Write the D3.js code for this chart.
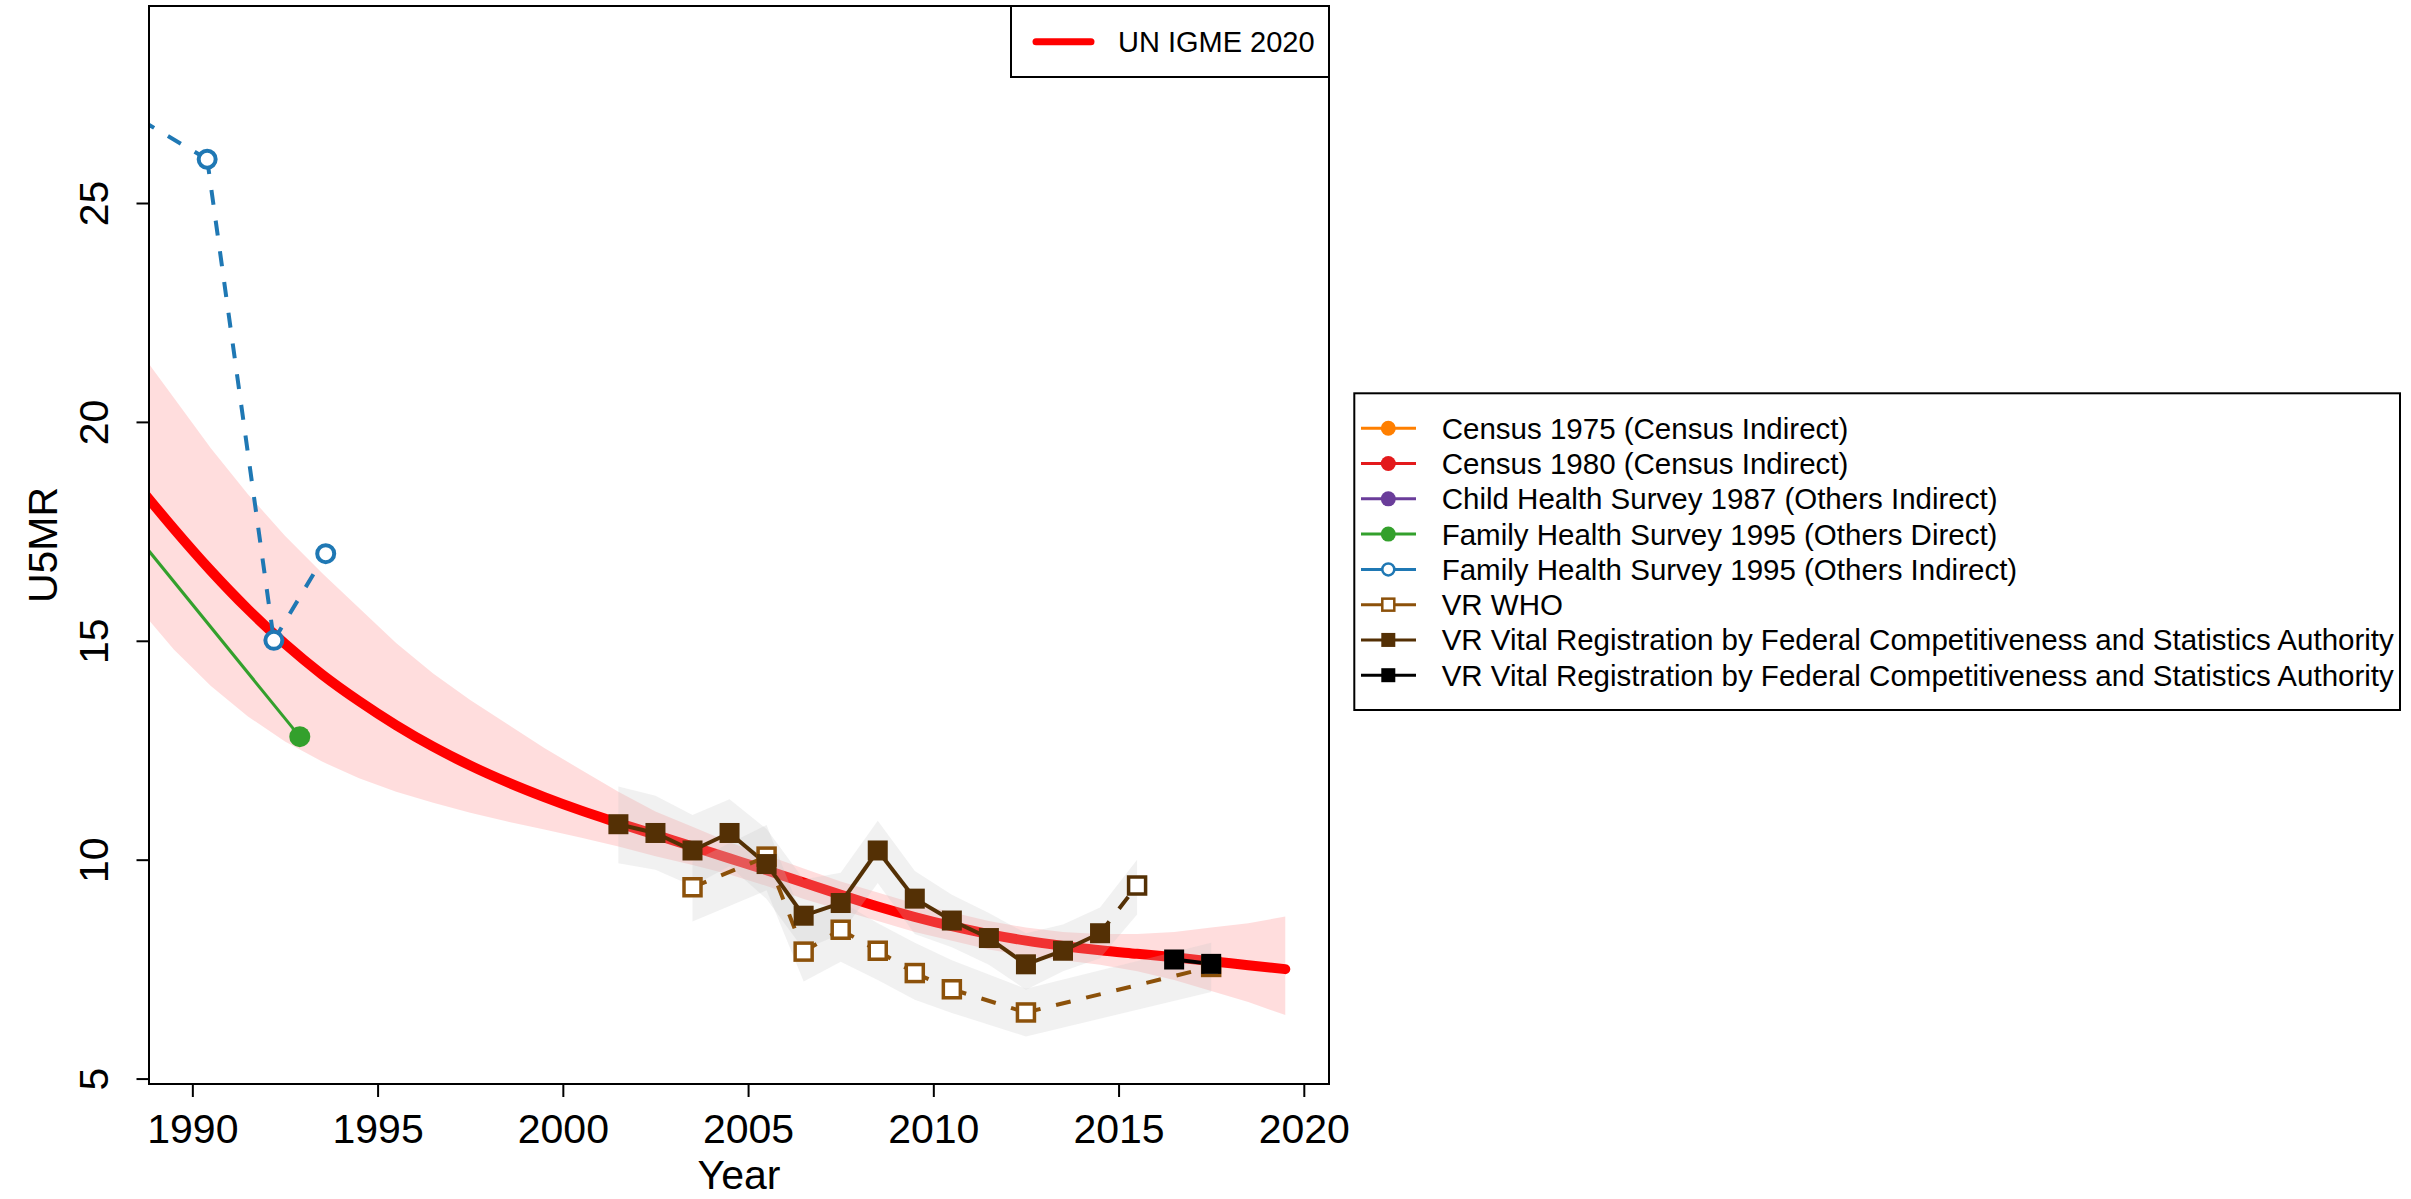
<!DOCTYPE html>
<html lang="en">
<head>
<meta charset="utf-8">
<title>U5MR</title>
<script src="https://cdn.jsdelivr.net/npm/d3@7"></script>
<style>
  body { margin: 0; background: #fff; }
  text { font-family: "Liberation Sans", Arial, Helvetica, sans-serif; fill: #000; }
</style>
</head>
<body>
<svg width="2411" height="1199"></svg>
<script>
// UN IGME 2020 estimate and its uncertainty band
var igmeYears = [1987.5, 1988.5, 1989.5, 1990.5, 1991.5, 1992.5, 1993.5, 1994.5, 1995.5, 1996.5, 1997.5,
                 1998.5, 1999.5, 2000.5, 2001.5, 2002.5, 2003.5, 2004.5, 2005.5, 2006.5, 2007.5,
                 2008.5, 2009.5, 2010.5, 2011.5, 2012.5, 2013.5, 2014.5, 2015.5, 2016.5, 2017.5,
                 2018.5, 2019.5];
var igmeValues = [19.65, 18.58, 17.56, 16.6, 15.72, 14.93, 14.23, 13.62, 13.07, 12.58, 12.15,
                  11.77, 11.43, 11.12, 10.84, 10.57, 10.3, 10.03, 9.76, 9.48, 9.2,
                  8.93, 8.69, 8.48, 8.3, 8.15, 8.03, 7.93, 7.85, 7.77, 7.68,
                  7.59, 7.5];
var igmeLower = [16.9, 15.8, 14.8, 13.97, 13.27, 12.7, 12.24, 11.86, 11.55, 11.3, 11.07,
                 10.87, 10.69, 10.5, 10.3, 10.08, 9.88, 9.66, 9.4, 9.1, 8.85,
                 8.6, 8.35, 8.15, 7.95, 7.8, 7.7, 7.6, 7.45, 7.25, 7.0,
                 6.75, 6.45];
var igmeUpper = [22.9, 21.7, 20.55, 19.4, 18.35, 17.4, 16.55, 15.75, 14.95, 14.25, 13.65,
                 13.1, 12.55, 12.05, 11.55, 11.1, 10.75, 10.4, 10.1, 9.8, 9.5,
                 9.25, 9.0, 8.8, 8.6, 8.45, 8.35, 8.3, 8.3, 8.35, 8.45,
                 8.55, 8.7];

// Family Health Survey 1995 (Others Direct)
var fhsDirectYears = [1987.9, 1992.9];
var fhsDirectValues = [18.02, 12.81];

// Family Health Survey 1995 (Others Indirect)
var fhsIndirectYears = [1987.9, 1990.4, 1992.2, 1993.6];
var fhsIndirectValues = [27.25, 26.0, 15.01, 16.99];

// VR WHO
var whoYears = [2003.5, 2005.5, 2006.5, 2007.5, 2008.5, 2009.5, 2010.5, 2012.5, 2017.5];
var whoValues = [9.37, 10.07, 7.9, 8.4, 7.92, 7.41, 7.04, 6.51, 7.55];
var whoLower = [8.59, 9.3, 7.22, 7.67, 7.25, 6.8, 6.5, 5.96, 6.98];
var whoUpper = [9.96, 10.79, 8.6, 9.05, 8.55, 8.1, 7.7, 7.05, 8.1];

// VR Vital Registration by Federal Competitiveness and Statistics Authority (brown)
var fcsaYears = [2001.5, 2002.5, 2003.5, 2004.5, 2005.5, 2006.5, 2007.5, 2008.5, 2009.5,
                 2010.5, 2011.5, 2012.5, 2013.5, 2014.5, 2015.5];
var fcsaValues = [10.81, 10.61, 10.21, 10.61, 9.9, 8.72, 9.01, 10.21, 9.11,
                  8.61, 8.21, 7.61, 7.92, 8.32, 9.41];
var fcsaExcluded = [false, false, false, false, false, false, false, false, false,
                    false, false, false, false, false, true];
var fcsaLower = [9.92, 9.77, 9.4, 9.85, 9.1, 7.95, 8.3, 9.47, 8.3,
                 8.0, 7.6, 7.03, 7.45, 7.75, 8.75];
var fcsaUpper = [11.67, 11.46, 11.02, 11.38, 10.7, 9.55, 9.7, 10.89, 9.74,
                 9.2, 8.78, 8.32, 8.52, 8.91, 10.0];

// VR Vital Registration by Federal Competitiveness and Statistics Authority (black)
var fcsa2Years = [2016.5, 2017.5];
var fcsa2Values = [7.72, 7.62];

// axes
var xTicks = [1990, 1995, 2000, 2005, 2010, 2015, 2020];
var yTicks = [5, 10, 15, 20, 25];

// legend
var legendLabels = ["Census 1975 (Census Indirect)",
                    "Census 1980 (Census Indirect)",
                    "Child Health Survey 1987 (Others Indirect)",
                    "Family Health Survey 1995 (Others Direct)",
                    "Family Health Survey 1995 (Others Indirect)",
                    "VR WHO",
                    "VR Vital Registration by Federal Competitiveness and Statistics Authority",
                    "VR Vital Registration by Federal Competitiveness and Statistics Authority"];
var legendColors = ["#FF7F00", "#E31A1C", "#6A3D9A", "#33A02C", "#1F78B4", "#8C510A", "#543005", "#000000"];
var legendShapes = ["dot", "dot", "dot", "dot", "ring", "box", "square", "square"];

var svg = d3.select("svg");
var plot = {left: 149, right: 1329, top: 6, bottom: 1084};

var x = d3.scaleLinear().domain([1988.83, 2020.68]).range([plot.left, plot.right]);
var y = d3.scaleLinear().domain([4.876, 29.5]).range([plot.bottom, plot.top]);

svg.append("defs").append("clipPath").attr("id", "clip")
  .append("rect")
    .attr("x", plot.left).attr("y", plot.top)
    .attr("width", plot.right - plot.left).attr("height", plot.bottom - plot.top);

var g = svg.append("g").attr("clip-path", "url(#clip)");

// band helper
function band(years, lo, hi) {
  return d3.area()
    .x(function(d) { return x(years[d]); })
    .y0(function(d) { return y(lo[d]); })
    .y1(function(d) { return y(hi[d]); })(d3.range(years.length));
}

// pink IGME band
g.append("path")
  .attr("d", band(igmeYears, igmeLower, igmeUpper))
  .attr("fill", "#ff0000")
  .attr("fill-opacity", 0.135);

// IGME line
var line = d3.line().x(function(d) { return x(d[0]); }).y(function(d) { return y(d[1]); });
g.append("path")
  .attr("d", line.curve(d3.curveMonotoneX)(d3.zip(igmeYears, igmeValues)))
  .attr("fill", "none")
  .attr("stroke", "#ff0000")
  .attr("stroke-width", 10)
  .attr("stroke-linecap", "round")
  .attr("stroke-linejoin", "round");
line.curve(d3.curveLinear);

// grey data bands
g.append("path")
  .attr("d", band(fcsaYears, fcsaLower, fcsaUpper))
  .attr("fill", "#c8c8c8").attr("fill-opacity", 0.25);
g.append("path")
  .attr("d", band(whoYears, whoLower, whoUpper))
  .attr("fill", "#c8c8c8").attr("fill-opacity", 0.25);

// series lines, segment by segment so excluded points get dashes
function drawLines(years, values, color, width, dashedAll, excluded) {
  for (var i = 1; i < years.length; i++) {
    var dashed = dashedAll || (excluded && (excluded[i] || excluded[i - 1]));
    g.append("path")
      .attr("d", line([[years[i - 1], values[i - 1]], [years[i], values[i]]]))
      .attr("fill", "none")
      .attr("stroke", color)
      .attr("stroke-width", width)
      .attr("stroke-dasharray", dashed ? "15,16" : null);
  }
}

drawLines(fhsDirectYears, fhsDirectValues, "#33A02C", 3, false);
drawLines(fhsIndirectYears, fhsIndirectValues, "#1F78B4", 4, true);
drawLines(whoYears, whoValues, "#8C510A", 4, true);
drawLines(fcsaYears, fcsaValues, "#543005", 4, false, fcsaExcluded);
drawLines(fcsa2Years, fcsa2Values, "#000000", 4, false);

// markers
function dots(years, values, color, hollow, r) {
  g.selectAll(null).data(d3.zip(years, values)).enter()
    .append("circle")
      .attr("cx", function(d) { return x(d[0]); })
      .attr("cy", function(d) { return y(d[1]); })
      .attr("r", r)
      .attr("fill", hollow ? "#fff" : color)
      .attr("stroke", hollow ? color : "none")
      .attr("stroke-width", 4);
}
function squares(years, values, color, hollow, flags) {
  g.selectAll(null).data(d3.range(years.length)).enter()
    .append("rect")
      .each(function(i) {
        var open = hollow || (flags && flags[i]);
        var s = open ? 17 : 20;
        d3.select(this)
          .attr("x", x(years[i]) - s / 2)
          .attr("y", y(values[i]) - s / 2)
          .attr("width", s).attr("height", s)
          .attr("fill", open ? "#fff" : color)
          .attr("stroke", open ? color : "none")
          .attr("stroke-width", 3.5);
      });
}

dots(fhsDirectYears.slice(1), fhsDirectValues.slice(1), "#33A02C", false, 10.5);
dots(fhsIndirectYears.slice(1), fhsIndirectValues.slice(1), "#1F78B4", true, 8.5);
squares(whoYears, whoValues, "#8C510A", true);
squares(fcsaYears, fcsaValues, "#543005", false, fcsaExcluded);
squares(fcsa2Years, fcsa2Values, "#000000", false);

// axes
var xAxis = svg.append("g")
  .attr("transform", "translate(0," + plot.bottom + ")")
  .call(d3.axisBottom(x).tickValues(xTicks).tickSize(13).tickSizeOuter(0).tickFormat(d3.format("d")));
xAxis.select(".domain").remove();
xAxis.selectAll("line").attr("stroke-width", 2);
xAxis.selectAll("text")
  .attr("y", 58.7).attr("dy", 0)
  .style("font-size", "41px")
  .style("font-family", "'Liberation Sans', Arial, sans-serif");

var yAxis = svg.append("g")
  .attr("transform", "translate(" + plot.left + ",0)")
  .call(d3.axisLeft(y).tickValues(yTicks).tickSize(12.5).tickSizeOuter(0));
yAxis.select(".domain").remove();
yAxis.selectAll("line").attr("stroke-width", 2);
yAxis.selectAll("text")
  .attr("x", null).attr("dy", 0)
  .attr("transform", "translate(-41,0) rotate(-90)")
  .attr("text-anchor", "middle")
  .style("font-size", "41px")
  .style("font-family", "'Liberation Sans', Arial, sans-serif");

// frame
svg.append("rect")
  .attr("x", plot.left).attr("y", plot.top)
  .attr("width", plot.right - plot.left).attr("height", plot.bottom - plot.top)
  .attr("fill", "none").attr("stroke", "#000").attr("stroke-width", 2);

// axis titles
svg.append("text")
  .attr("x", (plot.left + plot.right) / 2).attr("y", 1189)
  .attr("text-anchor", "middle")
  .style("font-size", "41px")
  .text("Year");
svg.append("text")
  .attr("transform", "translate(57," + (plot.top + plot.bottom) / 2 + ") rotate(-90)")
  .attr("text-anchor", "middle")
  .style("font-size", "41px")
  .text("U5MR");

// top-right legend
svg.append("rect")
  .attr("x", 1011).attr("y", plot.top).attr("width", plot.right - 1011).attr("height", 71)
  .attr("fill", "#fff").attr("stroke", "#000").attr("stroke-width", 2);
svg.append("line")
  .attr("x1", 1036).attr("x2", 1091).attr("y1", 41.7).attr("y2", 41.7)
  .attr("stroke", "#ff0000").attr("stroke-width", 7).attr("stroke-linecap", "round");
svg.append("text")
  .attr("x", 1118).attr("y", 51.7)
  .style("font-size", "29px")
  .text("UN IGME 2020");

// data source legend
var leg = svg.append("g");
leg.append("rect")
  .attr("x", 1354.3).attr("y", 393.3).attr("width", 1045.7).attr("height", 316.7)
  .attr("fill", "#fff").attr("stroke", "#000").attr("stroke-width", 2);

var rowY = d3.scaleLinear().domain([0, 7]).range([428.3, 675.2]);
legendLabels.forEach(function(label, i) {
  var cy = rowY(i), c = legendColors[i], shape = legendShapes[i];
  leg.append("line")
    .attr("x1", 1361).attr("x2", 1416).attr("y1", cy).attr("y2", cy)
    .attr("stroke", c).attr("stroke-width", 3);
  if (shape === "dot" || shape === "ring") {
    leg.append("circle")
      .attr("cx", 1388.3).attr("cy", cy)
      .attr("r", shape === "dot" ? 7.5 : 6)
      .attr("fill", shape === "dot" ? c : "#fff")
      .attr("stroke", shape === "dot" ? "none" : c)
      .attr("stroke-width", 2.5);
  } else {
    var s = shape === "box" ? 12 : 14;
    leg.append("rect")
      .attr("x", 1388.3 - s / 2).attr("y", cy - s / 2)
      .attr("width", s).attr("height", s)
      .attr("fill", shape === "box" ? "#fff" : c)
      .attr("stroke", shape === "box" ? c : "none")
      .attr("stroke-width", 2.5);
  }
  leg.append("text")
    .attr("x", 1441.7).attr("y", cy + 10.5)
    .style("font-size", "29.5px")
    .text(label);
});
</script>
</body>
</html>
